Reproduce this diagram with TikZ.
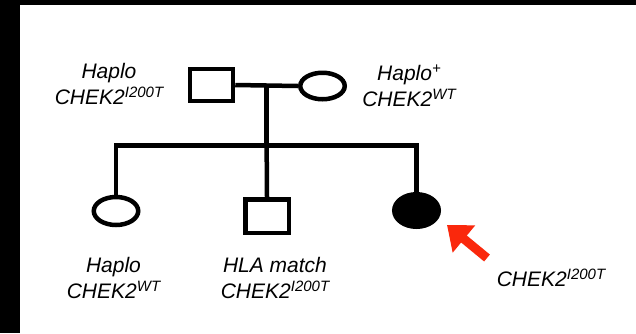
\documentclass[tikz,border=0pt]{standalone}
\usepackage{fontspec}
\setmainfont{Liberation Sans}
\usepackage{tikz}
\usetikzlibrary{arrows.meta,positioning,shapes.geometric,calc}
\definecolor{pointerred}{RGB}{250,40,12}
\newcommand{\gt}[1]{\raisebox{7pt}{\fontsize{15}{15}\selectfont #1}}

\begin{document}
\begin{tikzpicture}[
  x=1pt, y=-1pt,
  font=\fontsize{21}{26}\selectfont\itshape,
  male/.style={draw, line width=4.5pt, rectangle, inner sep=0pt, minimum width=43pt, minimum height=32pt},
  female/.style={draw, line width=4.5pt, ellipse, inner sep=0pt, minimum width=44.5pt, minimum height=28pt},
  affected/.style={female, fill=black, minimum height=32.5pt},
  geno/.style={align=center, inner sep=0pt},
  line/.style={line width=4.5pt},
  pointer/.style={line width=9pt, draw=pointerred, -{Triangle[length=22pt, width=34pt]}}
]
  \useasboundingbox (0,0) rectangle (636,333);
  \fill[white] (0,0) rectangle (636,333);
  \fill[black] (0,0) rectangle (20,333);
  \fill[black] (0,0) rectangle (636,5);

  \node[male] (father) at (211.5,85) {};
  \node[female, minimum height=26.5pt] (mother) at (322.5,86) {};
  \node[female] (sister) at (116,211) {};
  \node[male, minimum width=43.5pt, minimum height=33.5pt] (brother) at (267,216) {};
  \node[affected] (proband) at (416.5,210.5) {};

  \coordinate (mate) at ($(father.east)!0.5!(mother.west)$);
  \coordinate (sib) at (mate |- 0,145.5);

  \draw[line] (father.east) -- (mother.west);
  \draw[line] (mate) -- (sib);
  \draw[line] (sister.north) -- (sister.north |- sib) -- (proband.north |- sib) -- (proband.north);
  \draw[line] (sib) -- (brother.north);

  \node[geno, anchor=north] (fatherlbl) at (109,63) {Haplo\\CHEK2\gt{I200T}};
  \node[geno, anchor=north] (motherlbl) at (409,65) {Haplo\gt{+}\\CHEK2\gt{WT}};
  \node[geno, anchor=north] (sisterlbl) at (113.5,257) {Haplo\\CHEK2\gt{WT}};
  \node[geno, anchor=north] (brotherlbl) at (275,257) {HLA match\\CHEK2\gt{I200T}};
  \node[geno, anchor=base] (probandlbl) at (551,286) {CHEK2\gt{I200T}};

  \coordinate (ptail) at (487,258);
  \coordinate (ptip) at (447,225);
  \draw[pointer] (ptail) -- (ptip);
\end{tikzpicture}
\end{document}
